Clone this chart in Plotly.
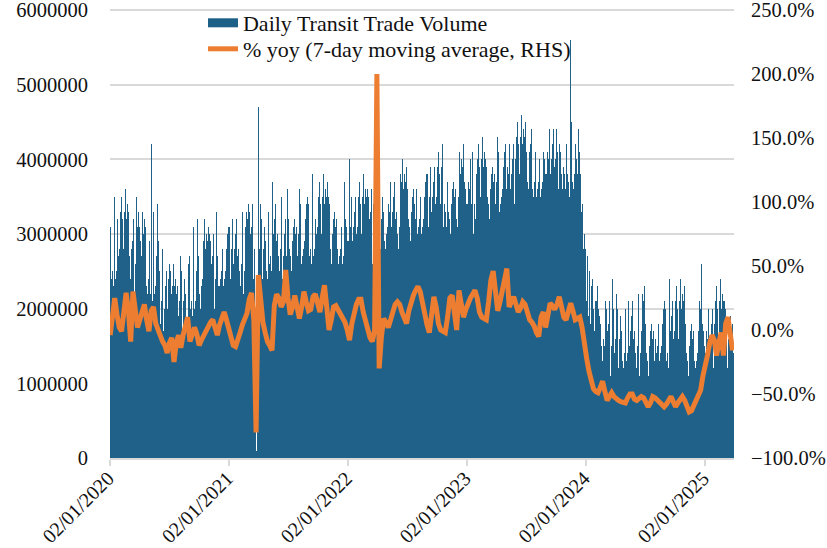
import pandas as pd
import plotly.graph_objects as go

# Daily transit volume in units of 100,000 (one row per month)
UNIT = 100000

vol_2020 = [
    [28,31,26,33,24,29,34,25,28,30,23,32,38,35,26,31,24,28,33,25,30,22,29,32,26,36,27,24,31,28],  # from 2 Jan
    [31,26,33,29,24,35,30,27,32,25,34,28,31,23,33,30,26,36,27,29,32,25,31,34,28,26,33,27,30],
    [27,32,30,24,31,26,34,28,25,33,29,23,30,32,39,31,22,29,33,26,30,25,35,28,24,31,29,26,33,25,30],
    [31,26,23,29,32,24,27,30,25,33,22,36,30,26,23,32,29,24,31,27,25,34,23,28,29,22,30,28,24,31],
    [26,29,24,31,22,27,32,42,26,28,21,30,25,33,24,29,22,26,31,23,28,20,27,30,24,34,25,22,29,26,28],
    [25,20,27,23,18,29,24,21,26,19,28,22,25,17,27,24,20,30,21,23,26,19,25,28,22,20,27,21,24,29],
    [21,26,24,18,25,20,28,22,19,27,23,17,24,26,21,25,16,23,27,20,24,19,29,22,18,25,23,20,27,19,24],
    [26,21,18,24,27,19,22,25,20,28,17,23,25,21,18,27,24,19,26,22,20,29,18,23,24,17,25,23,19,26,21],
    [24,27,22,29,20,25,30,21,24,26,19,28,23,31,22,27,20,24,29,21,26,18,25,28,22,32,23,20,27,24],
    [27,22,29,25,20,31,26,23,28,21,30,24,27,19,29,26,22,32,23,25,28,21,27,30,24,22,29,23,26,31,21],
    [25,30,28,22,29,24,32,26,23,31,27,21,28,30,25,29,20,27,31,24,28,23,33,26,22,29,27,24,31,23],
    [31,26,23,29,32,24,27,30,25,33,22,28,30,26,23,32,29,24,31,27,25,34,23,28,29,22,30,35,24,31,26],
]
vol_2021 = [
    [28,31,26,33,24,29,34,25,28,30,23,32,27,35,26,31,24,28,33,25,30,22,29,32,26,36,27,24,31,28,30],
    [30,25,32,28,23,34,29,26,31,24,33,27,30,22,32,29,25,35,26,28,31,24,30,33,27,25,32,26],
    [29,34,32,26,33,28,36,30,27,35,31,25,32,34,29,33,24,31,35,28,32,27,6,2,1,1,2,1,4,46,48],
    [47,41,37,33,28,25,31,34,26,29,32,27,35,24,30,32,28,25,34,31,26,33,29,27,36,25,30,31,24,32],
    [30,33,28,35,26,31,36,27,30,32,25,34,29,37,28,33,26,30,35,27,32,24,31,34,28,38,29,26,33,30,32],
    [32,27,34,30,25,36,31,28,33,26,35,29,32,24,34,31,27,37,28,30,33,26,32,35,29,27,34,28,31,36],
    [29,34,32,26,33,28,36,30,27,35,31,25,32,34,29,33,24,31,35,28,32,27,37,30,26,33,31,28,35,27,32],
    [35,30,27,33,36,28,31,34,29,37,26,32,34,30,27,36,33,28,35,31,29,38,27,32,33,26,34,32,28,35,30],
    [31,34,29,36,27,32,37,28,31,33,26,35,30,38,29,34,27,31,36,28,33,25,32,35,29,39,30,27,34,31],
    [33,28,35,31,26,37,32,29,34,27,36,30,33,25,35,32,28,38,29,31,34,27,33,36,30,28,35,29,32,37,27],
    [30,35,33,27,34,29,37,31,28,36,32,26,33,35,30,34,25,32,36,29,33,28,38,31,27,34,32,29,36,28],
    [34,29,26,32,35,27,30,33,28,36,25,31,33,29,26,35,32,27,34,30,28,37,26,31,32,25,33,31,27,34,29],
]
vol_2022 = [
    [31,34,29,36,27,40,37,28,31,33,26,35,30,38,29,34,27,31,36,28,33,25,32,35,29,39,30,27,34,31,33],
    [33,28,35,31,26,37,32,29,34,27,36,30,33,25,35,32,28,38,29,31,34,27,33,36,30,28,35,29],
    [31,36,34,28,35,30,38,32,29,37,33,27,34,36,31,35,26,33,37,30,34,29,39,32,28,35,33,30,37,29,34],
    [37,32,29,35,38,30,33,36,31,39,28,34,36,32,29,38,35,30,37,33,31,40,29,34,35,28,36,47,30,37],
    [33,36,31,38,29,34,39,30,33,35,28,37,32,40,31,36,29,33,38,30,35,27,34,37,31,41,32,29,36,33,35],
    [35,30,37,33,28,39,34,31,36,29,38,32,35,27,37,34,30,40,31,33,36,29,35,38,32,30,37,31,34,39],
    [33,38,36,30,37,32,40,34,31,39,35,29,36,38,33,37,28,35,39,32,36,31,41,34,30,37,35,32,39,31,36],
    [38,33,30,36,39,31,34,47,32,40,29,35,37,33,30,39,36,31,38,34,32,41,30,35,36,29,37,35,31,38,33],
    [35,38,33,40,31,36,41,32,35,37,30,39,34,42,33,38,31,35,40,32,37,29,36,39,33,43,34,31,38,35],
    [37,32,39,35,30,41,36,33,38,31,40,34,37,45,39,36,32,42,33,35,38,31,37,40,34,32,39,33,36,41,31],
    [34,39,37,31,38,33,41,35,32,40,36,30,37,39,34,38,29,36,40,33,37,32,42,35,31,38,36,33,40,32],
    [39,34,31,37,40,32,35,38,33,41,30,36,38,34,31,40,37,32,39,35,33,42,31,36,37,30,38,36,32,39,34],
]
vol_2023 = [
    [36,39,34,41,32,37,42,33,36,38,31,40,35,43,34,39,32,36,41,33,38,30,37,40,34,44,35,32,39,36,38],
    [38,33,40,36,31,42,37,34,39,32,41,35,38,30,40,37,33,43,34,36,39,32,38,41,35,33,40,34],
    [36,41,39,33,40,35,43,37,34,42,38,32,39,41,36,40,31,38,42,35,39,34,44,37,33,40,38,35,42,34,39],
    [42,37,34,40,43,35,38,41,36,44,33,39,41,37,34,43,40,35,42,38,36,45,34,39,40,33,41,39,35,42],
    [38,41,36,43,34,39,44,35,38,40,33,42,37,45,36,41,34,38,43,35,40,32,39,42,36,46,37,34,41,38,40],
    [41,36,43,39,34,45,40,37,42,35,44,38,41,33,43,40,36,46,37,39,42,35,49,44,38,36,43,37,40,45],
    [38,43,41,35,42,37,45,39,36,44,40,34,41,43,38,42,33,40,44,37,41,36,46,39,35,42,40,37,44,36,41],
    [43,38,35,41,44,36,39,42,37,45,34,40,42,38,35,44,41,36,43,39,37,46,35,40,41,34,42,40,36,43,38],
    [40,43,38,45,36,41,46,37,40,42,35,44,39,47,38,43,36,40,45,37,42,34,41,44,38,48,39,36,43,40],
    [42,37,44,40,35,46,41,38,43,36,45,39,42,34,44,41,37,47,38,40,43,36,42,45,39,37,44,38,41,46,36],
    [39,44,42,36,43,38,46,40,37,45,41,35,42,44,56,43,34,41,45,38,42,37,47,40,36,43,41,38,45,37],
    [42,37,34,40,43,35,38,41,36,44,33,39,41,37,34,38,35,37,33,36,31,34,30,33,28,31,27,30,26,29,25],
]
vol_2024 = [
    [28,23,26,21,25,22,27,20,24,19,23,21,25,18,22,18,21,16,23,14,19,24,15,18,20,13,22,17,25,16,21],
    [19,14,21,17,12,23,18,15,20,13,22,16,19,11,21,18,14,24,15,17,20,13,19,22,16,14,21,15,18],
    [16,21,19,13,20,15,23,17,14,22,18,12,19,21,16,26,11,18,22,15,19,14,24,17,13,20,18,15,22,14,19],
    [21,16,13,19,22,14,17,20,15,23,12,18,20,16,13,22,19,14,21,17,15,24,13,18,19,12,20,18,14,21],
    [17,20,15,22,13,18,23,14,17,19,12,21,16,24,15,20,13,17,22,14,19,11,18,21,15,25,16,13,20,17,19],
    [19,14,21,17,12,23,18,15,20,13,22,16,19,11,21,18,14,26,15,17,20,13,19,22,16,14,21,15,18,23],
    [15,20,18,12,19,14,22,16,13,21,17,11,18,20,15,19,10,17,21,14,18,13,23,16,12,19,17,14,21,13,18],
    [21,16,13,19,22,14,17,20,15,23,12,18,20,16,13,22,19,14,21,17,15,27,13,18,19,12,20,18,14,21,16],
    [17,20,15,22,13,18,23,14,17,19,12,21,16,24,15,20,13,17,22,14,19,11,18,21,15,25,16,13,20,17],
    [28,14,21,17,12,23,18,15,20,13,22,16,19,11,21,18,14,24,15,17,20,13,19,22,16,14,21,15,18,23,13],
    [15,20,18,12,19,14,22,16,13,21,17,11,18,20,15,19,10,17,21,14,18,13,26,16,12,19,17,14,21,13],
    [20,15,12,18,21,13,16,19,14,22,11,17,19,15,12,21,18,13,20,16,14,26,12,17,18,11,19,17,13,20,15],
]
vol_2025 = [
    [16,19,14,21,12,17,22,13,16,18,11,20,15,23,14,19,12,16,21,13,18,10,17,20,14,24,15,12,19,16,18],
    [19,14,21,17,12,23,18,15,20,13,22,16,19,11,21,18,14,24,15,17,20,13,19,22,16,14,21,15],
    [16,21,19,13,20,15,23,17,14,22,18,12,19,21,16,20,11,18,22,15,19,14,24,17,13,20,18,15,22,14,19],
]

# % yoy, 7-day moving average, one reading per week starting 2 Jan 2020
yoy_weekly = [
    -4, 10, 25, 12, 2, -1, 19, 29, 15, -9,
    30, 18, 2, 8, 14, 20, 8, -1, 15, 18,
    5, 0, -5, -9, -12, -18, -10, -6, -25, -10,
    -4, -14, -4, 5, 10, -9, -2, 2, -3, -12,
    -8, -4, -2, 2, 6, 8, 2, -4, 4, 10,
    14, 8, 2, -5, -12, -13, -6, -2, 4, 9,
    13, 24, 29, 8, -80, 43, 25, 6, -2, -9,
    -12, -16, 19, 28, 25, 18, 22, 47, 25, 12,
    18, 27, 18, 9, 18, 30, 22, 15, 16, 26,
    28, 20, 14, 25, 35, 18, 0, 8, 18, 19,
    16, 13, 10, 6, 0, -8, 5, 14, 20, 24,
    24, 14, 6, 0, -6, -9, 0, 200, -30, -5,
    9, 6, 2, 8, 16, 20, 22, 20, 14, 8,
    5, 15, 23, 27, 31, 34, 30, 20, 10, 4,
    -2, 12, 26, 18, 5, 0, -1, -2, 10, 25,
    27, 12, 0, 31, 22, 10, 16, 21, 25, 28,
    31, 25, 14, 10, 9, 8, 22, 39, 46, 30,
    15, 22, 30, 40, 48, 18, 22, 26, 20, 14,
    17, 22, 20, 12, 8, 6, 3, -2, -5, 10,
    14, 2, 10, 21, 19, 16, 20, 26, 18, 10,
    8, 14, 21, 15, 8, 9, 10, 2, -14, -22,
    -32, -40, -46, -48, -49, -45, -40, -48, -55, -52,
    -49, -52, -54, -55, -56, -57, -57, -53, -50, -50,
    -54, -55, -54, -52, -53, -57, -60, -57, -52, -53,
    -55, -56, -58, -60, -58, -54, -52, -56, -60, -57,
    -54, -52, -55, -60, -64, -63, -59, -56, -53, -47,
    -36, -29, -20, -10, -4, -8, -20, -10, -2, -20,
    5, 10, -5, -16,
]

tick_dates = ["2020-01-02", "2021-01-02", "2022-01-02", "2023-01-02", "2024-01-02", "2025-01-02"]
tick_labels = ["02/01/2020", "02/01/2021", "02/01/2022", "02/01/2023", "02/01/2024", "02/01/2025"]

BLUE = "rgba(28,95,135,0.99)"
BLUE_SOLID = "#1c5f87"
ORANGE = "#ED7D31"
GRID = "#d9d9d9"
FONT = "Liberation Serif, Times New Roman, serif"


def daily_frame(year, months):
    """Turn a year of monthly value rows into a dated frame."""
    frames = []
    for m, vals in enumerate(months, start=1):
        start = pd.Timestamp(year, m, 2 if (year, m) == (2020, 1) else 1)
        frames.append(pd.DataFrame({
            "date": pd.date_range(start, periods=len(vals), freq="D"),
            "volume": [v * UNIT for v in vals],
        }))
    return pd.concat(frames, ignore_index=True)


df = pd.concat([
    daily_frame(2020, vol_2020),
    daily_frame(2021, vol_2021),
    daily_frame(2022, vol_2022),
    daily_frame(2023, vol_2023),
    daily_frame(2024, vol_2024),
    daily_frame(2025, vol_2025),
], ignore_index=True)

yoy_dates = pd.date_range("2020-01-02", periods=len(yoy_weekly), freq="7D")

fig = go.Figure()
fig.add_trace(go.Bar(
    x=df["date"], y=df["volume"],
    name="Daily Transit Trade Volume",
    marker=dict(color=BLUE, line=dict(width=0)),
    showlegend=False,
))
# legend swatch for the bars (wide flat block like the original)
fig.add_trace(go.Scatter(
    x=[None], y=[None], mode="lines",
    name="Daily Transit Trade Volume",
    line=dict(color=BLUE_SOLID, width=9),
    legend="legend",
))
fig.add_trace(go.Scatter(
    x=yoy_dates, y=yoy_weekly,
    mode="lines", yaxis="y2",
    name="% yoy (7-day moving average, RHS)",
    line=dict(color=ORANGE, width=5),
    legend="legend2",
))

# two one-row legends so the rows sit as tightly as in the original
legend_style = dict(
    x=0.149, xanchor="left", yanchor="top",
    bgcolor="rgba(0,0,0,0)", borderwidth=0,
    font=dict(family=FONT, size=22, color="#111111"),
)

# the plot area runs a few px above the top tick so the legend can sit high
fig.update_layout(
    template="none",
    width=827, height=548,
    paper_bgcolor="white",
    plot_bgcolor="white",
    font=dict(family=FONT, size=20.5, color="#111111"),
    margin=dict(l=110, r=93, t=2, b=90, pad=0),
    bargap=0,
    showlegend=True,
    legend=dict(y=1.0, **legend_style),
    legend2=dict(y=0.943, **legend_style),
    xaxis=dict(
        type="date",
        range=["2020-01-01 12:00", "2025-03-31 12:00"],
        tickvals=tick_dates, ticktext=tick_labels,
        tickangle=-45, tickfont=dict(size=20),
        ticks="outside", ticklen=6, tickcolor=GRID, tickwidth=1.5,
        ticklabelstandoff=-7, ticklabelshift=-2, ticklabeloverflow="allow",
        showline=True, linecolor=GRID, linewidth=1.5,
        showgrid=False, zeroline=False, automargin=False,
    ),
    yaxis=dict(
        range=[0, 6107000], tick0=0, dtick=1000000, tickformat="d",
        showgrid=True, gridcolor=GRID, gridwidth=1.5,
        zeroline=False, showline=False, ticks="",
        ticklabelstandoff=21, ticklabeloverflow="allow", automargin=False,
    ),
    yaxis2=dict(
        overlaying="y", side="right",
        range=[-100, 256.25], tick0=0, dtick=50,
        tickformat=".1f", ticksuffix="%",
        showgrid=False, zeroline=False, showline=False, ticks="",
        ticklabelstandoff=16, ticklabeloverflow="allow", automargin=False,
    ),
)

# drop the page's default body margin so the 827x548 figure fills the window
fig.write_html(
    "out.html",
    config={"displayModeBar": False},
    post_script="document.body.style.margin = '0';",
)
